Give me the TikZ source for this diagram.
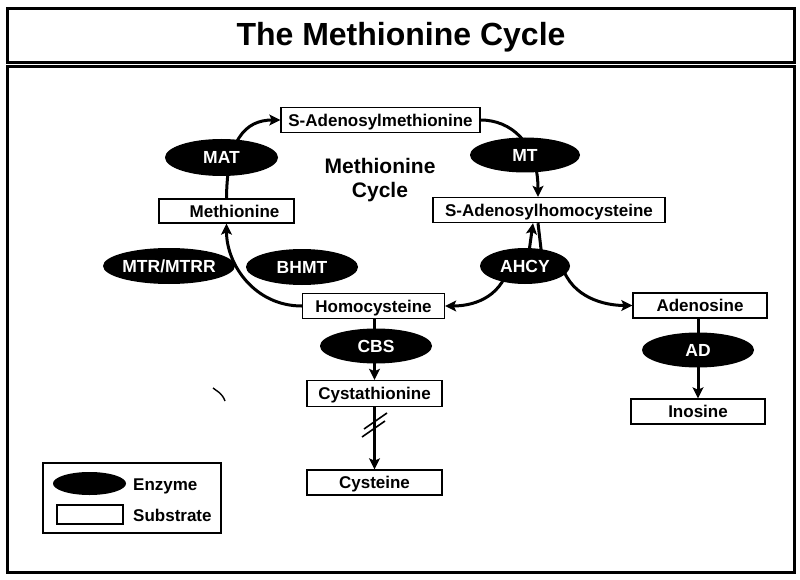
\documentclass[tikz,border=0pt]{standalone}
\usepackage{fontspec}
\setmainfont{Liberation Sans}
\usetikzlibrary{shapes.geometric,arrows.meta,backgrounds}
\begin{document}
\begin{tikzpicture}[x=1pt,y=-1pt,
  sub/.style={draw, line width=1.4pt, fill=white, rectangle, inner sep=0pt, minimum height=25pt, text height=12.2pt, text depth=0pt, font=\bfseries\fontsize{17}{20}\selectfont},
  enz/.style={ellipse, fill=black, text=white, inner sep=0pt, minimum width=112pt, minimum height=36pt, text height=12.5pt, text depth=0pt, font=\bfseries\fontsize{17.5}{20}\selectfont},
  conn/.style={line width=3pt, -{Stealth[length=11pt,width=11pt,inset=2.5pt]}},
  plainline/.style={line width=3pt},
  frame/.style={line width=3pt},
  lbl/.style={font=\bfseries\fontsize{17}{20}\selectfont, anchor=west, inner sep=0pt, text height=12.2pt, text depth=0pt}
]
\useasboundingbox (0,0) rectangle (800,580);
\begin{scope}[on background layer]
  \fill[white] (0,0) rectangle (800,580);
\end{scope}
% frames
\draw[frame] (7,9) rectangle (794,63);
\draw[frame] (7,67) rectangle (794,572);
\node (title) at (401,37) {\bfseries\fontsize{32}{36}\selectfont The Methionine Cycle};

% substrates
\node[sub, minimum width=199pt] (SAM) at (380.5,120) {S-Adenosylmethionine};
\node[sub, minimum width=135pt, minimum height=24pt] (Met) at (226.5,211) {\hspace*{16pt}Methionine};
\node[sub, minimum width=232pt] (SAH) at (549,210) {S-Adenosylhomocysteine};
\node[sub, minimum width=142pt] (Hcy) at (373.5,306) {Homocysteine};
\node[sub, minimum width=135pt, minimum height=26pt] (Cysta) at (374.5,393.5) {Cystathionine};
\node[sub, minimum width=135pt] (Cys) at (374.5,482.5) {Cysteine};
\node[sub, minimum width=134pt] (Ado) at (700,305.5) {Adenosine};
\node[sub, minimum width=134pt] (Ino) at (698,411.5) {Inosine};

% enzymes
\node[enz, minimum width=113pt, minimum height=37pt] (MAT) at (221.5,157.5) {MAT};
\node[enz, minimum width=110pt, minimum height=35pt] (MT) at (525,155) {MT};
\node[enz] (MTR) at (169,266) {MTR/MTRR};
\node[enz] (BHMT) at (302,267) {BHMT};
\node[enz, minimum width=90pt] (AHCY) at (525,266) {AHCY};
\node[enz, minimum height=35pt] (CBS) at (376,346) {CBS};
\node[enz, minimum height=35pt] (AD) at (698,350) {AD};

% cycle label
\node[align=center, font=\bfseries\fontsize{21}{24}\selectfont] (cyc) at (380,180) {Methionine\\Cycle};

% legend
\draw[line width=2pt] (43,463) rectangle (221,533);
\node[enz, minimum width=73pt, minimum height=23pt] (legE) at (89.5,483.5) {};
\node[sub, minimum width=66pt, minimum height=19pt, line width=1.1pt] (legS) at (90,514.5) {};
\node[lbl] (legEt) at (133,484) {Enzyme};
\node[lbl] (legSt) at (133,515) {Substrate};

% connectors
\begin{scope}[on background layer]
  \draw[conn] (Met.north) .. controls (227,140) and (245,120) .. (SAM.west);
  \draw[conn] (SAM.east) .. controls (510,120) and (538,142) .. ([xshift=-11pt]SAH.north);
  \draw[conn] ([xshift=2pt]AHCY.center) -- ([xshift=-16pt]SAH.south);
  \draw[plainline] ([xshift=-11pt]SAH.south) -- ([xshift=18pt]AHCY.center);
  \draw[conn] ([xshift=-16pt]AHCY.center) .. controls (500,300) and (470,306) .. (Hcy.east);
  \draw[conn] ([xshift=37pt]AHCY.center) .. controls (572,298) and (605,305.5) .. (Ado.west);
  \draw[conn] (Hcy.west) .. controls (255,306) and (226.5,265) .. (Met.south);
  \draw[conn] (Cysta.north |- Hcy.south) -- (Cysta.north);
  \draw[conn] (Cys.north |- Cysta.south) -- (Cys.north);
  \draw[conn] (Ino.north |- Ado.south) -- (Ino.north);
\end{scope}
% break marks
\draw[line width=1.6pt] (364,429) -- (387,413);
\draw[line width=1.6pt] (362,437) -- (385,421);
% stray mark
\draw[line width=1.4pt] (213,388) .. controls (218,392) and (222,393) .. (225,401);
\end{tikzpicture}
\end{document}
